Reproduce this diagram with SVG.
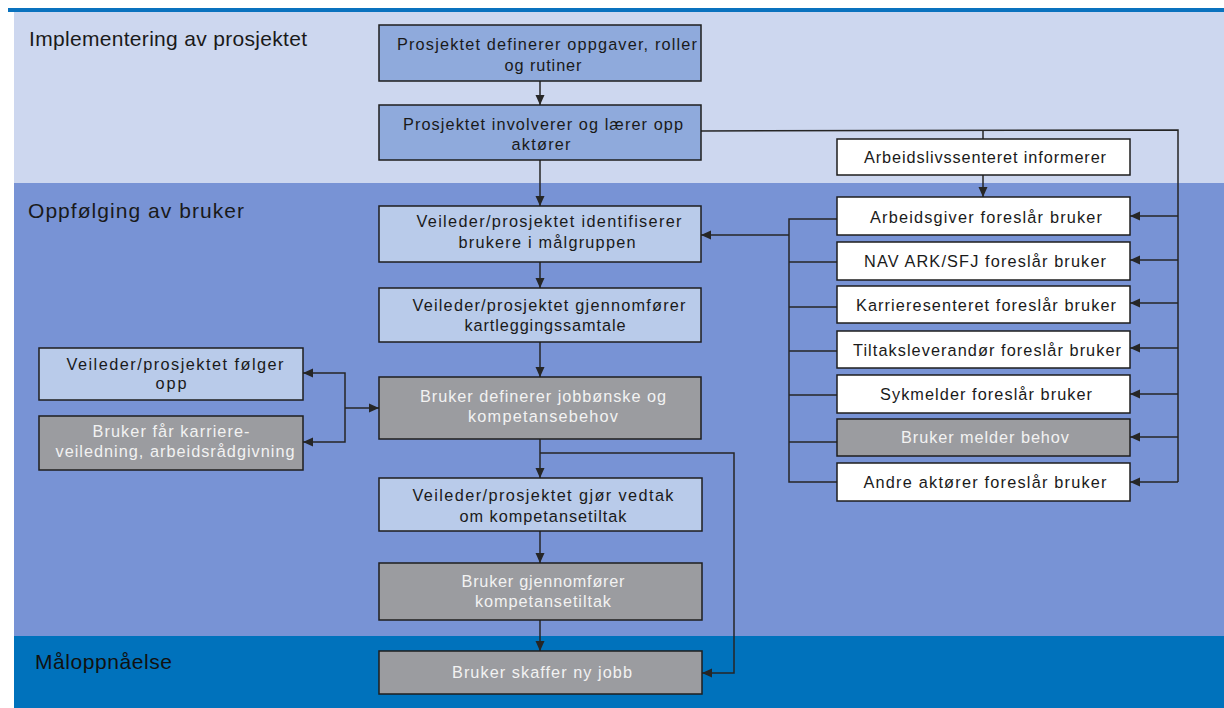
<svg xmlns="http://www.w3.org/2000/svg" width="1224" height="708" viewBox="0 0 1224 708">
<style>
.box{stroke:#1e1e1e;stroke-width:1.5}
.dk{fill:#8FAADC}
.lt{fill:#B9CBEA}
.gr{fill:#9B9CA0}
.wh{fill:#FFFFFF}
text{font-family:"Liberation Sans",Arial,sans-serif;font-size:16.3px;text-anchor:middle}
.t{fill:#1a1a1a}
.tw{fill:#F2F2F2}
.sec{font-size:21px;text-anchor:start;fill:#1a1a1a}
.con{stroke:#262626;stroke-width:1.5;fill:none}
.arr{marker-end:url(#ah)}
</style>
<defs>
<marker id="ah" markerUnits="userSpaceOnUse" markerWidth="10" markerHeight="10" refX="10" refY="5" orient="auto">
<path d="M0,0.5 L10,5 L0,9.5 z" fill="#262626"/>
</marker>
</defs>
<g id="bands">
<rect x="8" y="8" width="1216" height="4" fill="#0A72BE"/>
<rect x="14" y="12" width="1210" height="171" fill="#CDD7EF"/>
<rect x="14" y="183" width="1210" height="453" fill="#7893D5"/>
<rect x="14" y="636" width="1210" height="72" fill="#0072BC"/>
<text class="sec" x="29" y="46" textLength="278" lengthAdjust="spacing">Implementering av prosjektet</text>
<text class="sec" x="28" y="218" textLength="216" lengthAdjust="spacing">Oppfølging av bruker</text>
<text class="sec" x="35" y="669" textLength="137" lengthAdjust="spacing" style="fill:#111">Måloppnåelse</text>
</g>
<g id="connectors">
<line class="con arr" x1="540" y1="81" x2="540" y2="105"/>
<line class="con arr" x1="540" y1="160" x2="540" y2="206"/>
<line class="con arr" x1="540" y1="262" x2="540" y2="288"/>
<line class="con arr" x1="540" y1="342" x2="540" y2="377"/>
<line class="con arr" x1="540" y1="439" x2="540" y2="478"/>
<line class="con arr" x1="540" y1="531" x2="540" y2="563"/>
<line class="con arr" x1="540" y1="620" x2="540" y2="651"/>
<polyline class="con arr" points="540,453 734,453 734,673 702,673"/>
<polyline class="con" points="701,131 1178,130 1178,482"/>
<line class="con" x1="983" y1="130" x2="983" y2="139"/>
<line class="con arr" x1="983" y1="175" x2="983" y2="197"/>
<line class="con arr" x1="1178" y1="216" x2="1130" y2="216"/>
<line class="con arr" x1="1178" y1="260" x2="1130" y2="260"/>
<line class="con arr" x1="1178" y1="303" x2="1130" y2="303"/>
<line class="con arr" x1="1178" y1="348" x2="1130" y2="348"/>
<line class="con arr" x1="1178" y1="394" x2="1130" y2="394"/>
<line class="con arr" x1="1178" y1="437" x2="1130" y2="437"/>
<line class="con arr" x1="1178" y1="482" x2="1130" y2="482"/>
<polyline class="con" points="837,219 789,219 789,482 837,482"/>
<line class="con" x1="789" y1="262" x2="837" y2="262"/>
<line class="con" x1="789" y1="307" x2="837" y2="307"/>
<line class="con" x1="789" y1="351" x2="837" y2="351"/>
<line class="con" x1="789" y1="395" x2="837" y2="395"/>
<line class="con" x1="789" y1="442" x2="837" y2="442"/>
<line class="con arr" x1="789" y1="235" x2="701" y2="235"/>
<line class="con arr" x1="345" y1="408" x2="379" y2="408"/>
<polyline class="con arr" points="345,408 345,373 303,373"/>
<polyline class="con arr" points="345,408 345,442 303,442"/>
</g>
<g id="n1"><rect class="box dk" x="379" y="25" width="322" height="56"/><text class="t" x="547" y="50" textLength="300" lengthAdjust="spacing">Prosjektet definerer oppgaver, roller</text><text class="t" x="543" y="71" textLength="77" lengthAdjust="spacing">og rutiner</text></g>
<g id="n2"><rect class="box dk" x="379" y="105" width="322" height="55"/><text class="t" x="543" y="130" textLength="280" lengthAdjust="spacing">Prosjektet involverer og lærer opp</text><text class="t" x="541" y="150" textLength="59" lengthAdjust="spacing">aktører</text></g>
<g id="n3"><rect class="box lt" x="379" y="206" width="322" height="56"/><text class="t" x="549" y="227" textLength="265" lengthAdjust="spacing">Veileder/prosjektet identifiserer</text><text class="t" x="547" y="248" textLength="177" lengthAdjust="spacing">brukere i målgruppen</text></g>
<g id="n4"><rect class="box lt" x="379" y="288" width="322" height="54"/><text class="t" x="549" y="311" textLength="273" lengthAdjust="spacing">Veileder/prosjektet gjennomfører</text><text class="t" x="545" y="331" textLength="161" lengthAdjust="spacing">kartleggingssamtale</text></g>
<g id="n5"><rect class="box gr" x="379" y="377" width="322" height="62"/><text class="tw" x="543" y="402" textLength="246" lengthAdjust="spacing">Bruker definerer jobbønske og</text><text class="tw" x="543" y="422" textLength="150" lengthAdjust="spacing">kompetansebehov</text></g>
<g id="n6"><rect class="box lt" x="379" y="478" width="323" height="53"/><text class="t" x="543" y="501" textLength="261" lengthAdjust="spacing">Veileder/prosjektet gjør vedtak</text><text class="t" x="543" y="522" textLength="167" lengthAdjust="spacing">om kompetansetiltak</text></g>
<g id="n7"><rect class="box gr" x="379" y="563" width="323" height="57"/><text class="tw" x="543" y="587" textLength="163" lengthAdjust="spacing">Bruker gjennomfører</text><text class="tw" x="543" y="607" textLength="136" lengthAdjust="spacing">kompetansetiltak</text></g>
<g id="n8"><rect class="box gr" x="379" y="651" width="323" height="43"/><text class="tw" x="542" y="678" textLength="180" lengthAdjust="spacing">Bruker skaffer ny jobb</text></g>
<g id="l1"><rect class="box lt" x="39" y="348" width="264" height="52"/><text class="t" x="175" y="370" textLength="217" lengthAdjust="spacing">Veileder/prosjektet følger</text><text class="t" x="171" y="389" textLength="31" lengthAdjust="spacing">opp</text></g>
<g id="l2"><rect class="box gr" x="39" y="416" width="264" height="54"/><text class="tw" x="171" y="437" textLength="157" lengthAdjust="spacing">Bruker får karriere-</text><text class="tw" x="175" y="457" textLength="239" lengthAdjust="spacing">veiledning, arbeidsrådgivning</text></g>
<g id="r0"><rect class="box wh" x="837" y="139" width="293" height="36"/><text class="t" x="985" y="163" textLength="242" lengthAdjust="spacing">Arbeidslivssenteret informerer</text></g>
<g id="r1"><rect class="box wh" x="837" y="197" width="293" height="38"/><text class="t" x="986" y="223" textLength="232" lengthAdjust="spacing">Arbeidsgiver foreslår bruker</text></g>
<g id="r2"><rect class="box wh" x="837" y="242" width="293" height="38"/><text class="t" x="985" y="267" textLength="242" lengthAdjust="spacing">NAV ARK/SFJ foreslår bruker</text></g>
<g id="r3"><rect class="box wh" x="837" y="286" width="293" height="37"/><text class="t" x="986" y="311" textLength="260" lengthAdjust="spacing">Karrieresenteret foreslår bruker</text></g>
<g id="r4"><rect class="box wh" x="837" y="331" width="293" height="37"/><text class="t" x="987" y="356" textLength="268" lengthAdjust="spacing">Tiltaksleverandør foreslår bruker</text></g>
<g id="r5"><rect class="box wh" x="837" y="375" width="293" height="38"/><text class="t" x="986" y="400" textLength="212" lengthAdjust="spacing">Sykmelder foreslår bruker</text></g>
<g id="r6"><rect class="box gr" x="837" y="419" width="293" height="37"/><text class="tw" x="985" y="443" textLength="168" lengthAdjust="spacing">Bruker melder behov</text></g>
<g id="r7"><rect class="box wh" x="837" y="463" width="293" height="38"/><text class="t" x="985" y="488" textLength="243" lengthAdjust="spacing">Andre aktører foreslår bruker</text></g>
</svg>
